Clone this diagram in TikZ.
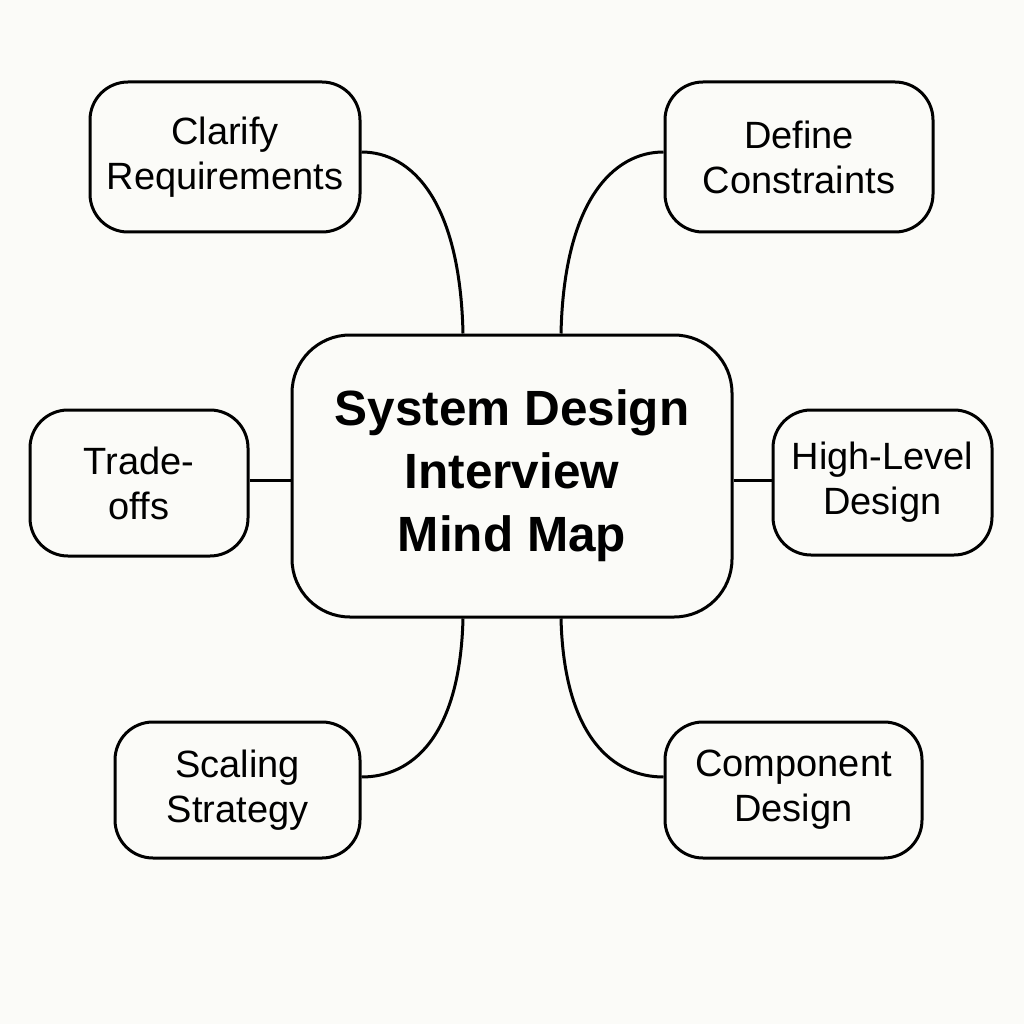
\documentclass[tikz,border=0pt]{standalone}
\usepackage{fontspec}
\setmainfont{Liberation Sans}
\definecolor{bg}{RGB}{251,251,248}
\begin{document}
\begin{tikzpicture}[x=1pt,y=-1pt,
  box/.style={draw=black,line width=3pt,fill=bg,rounded corners=38pt,inner sep=0pt,align=center,
    font=\fontsize{38}{45}\selectfont},
  hub/.style={draw=black,line width=3pt,fill=bg,rounded corners=58pt,inner sep=0pt,align=center,
    minimum width=440pt,minimum height=282pt,font=\bfseries\fontsize{49.5}{63}\selectfont},
  link/.style={line width=3pt,draw=black}]
\fill[bg] (0,0) rectangle (1024,1024);
\useasboundingbox (0,0) rectangle (1024,1024);

\node[hub] (hub) at (512,476) {System Design\\Interview\\Mind Map};

\node[box,minimum width=270pt,minimum height=150pt] (clar) at (225,157) {Clarify\\Requirements};
\node[box,minimum width=268pt,minimum height=150pt] (def) at (799,157) {Define\\Constraints};
\node[box,minimum width=218pt,minimum height=146pt] (trade) at (139,483) {Trade-\\offs};
\node[box,minimum width=219pt,minimum height=145pt] (high) at (882.5,482.5) {High-Level\\Design};
\node[box,minimum width=245pt,minimum height=136pt] (scal) at (237.5,790) {Scaling\\Strategy};
\node[box,minimum width=257pt,minimum height=136pt] (comp) at (793.5,790) {Component\\Design};

\coordinate (hubTL) at ([xshift=-49pt]hub.north);
\coordinate (hubTR) at ([xshift=49pt]hub.north);
\coordinate (hubBL) at ([xshift=-49pt]hub.south);
\coordinate (hubBR) at ([xshift=49pt]hub.south);
\coordinate (hubW) at (hub.west |- 0,480);
\coordinate (hubE) at (hub.east |- 0,480);
\coordinate (clarE) at ([yshift=5pt]clar.east);
\coordinate (defW) at ([yshift=5pt]def.west);
\coordinate (scalE) at ([yshift=13pt]scal.east);
\coordinate (compW) at ([yshift=13pt]comp.west);
\coordinate (tradeE) at (trade.east |- 0,480);
\coordinate (highW) at (high.west |- 0,480);

\draw[link] (clarE) .. controls +(50,0) and +(-3,-133) .. (hubTL);
\draw[link] (defW) .. controls +(-50,0) and +(3,-133) .. (hubTR);
\draw[link] (scalE) .. controls +(50,0) and +(-3,119) .. (hubBL);
\draw[link] (compW) .. controls +(-50,0) and +(3,119) .. (hubBR);
\draw[link] (tradeE) -- (hubW);
\draw[link] (hubE) -- (highW);
\end{tikzpicture}
\end{document}
